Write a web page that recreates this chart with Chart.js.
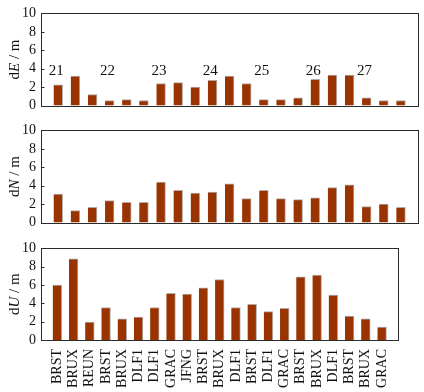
<!DOCTYPE html>
<html><head><meta charset="utf-8">
<script src="https://cdn.jsdelivr.net/npm/chart.js@4/dist/chart.umd.min.js"></script>
<style>
html,body{margin:0;padding:0;background:#fff;}
#wrap{position:relative;width:424px;height:392px;overflow:hidden;background:#fff;}
canvas{position:absolute;left:0;}
</style></head><body>
<div id="wrap">
<canvas id="c1" width="424" height="119" style="top:0px"></canvas>
<canvas id="c2" width="424" height="119" style="top:117px"></canvas>
<canvas id="c3" width="424" height="157" style="top:235px"></canvas>
</div>
<script>
const stations = ['BRST','BRUX','REUN','BRST','BRUX','DLF1','DLF1','GRAC','JFNG','BRST','BRUX','DLF1','BRST','DLF1','GRAC','BRST','BRUX','DLF1','BRST','BRUX','GRAC'];
const dE = [2.25,3.2,1.2,0.55,0.65,0.55,2.4,2.5,2.0,2.75,3.2,2.4,0.65,0.65,0.85,2.85,3.3,3.3,0.85,0.55,0.55];
const dN = [3.1,1.3,1.65,2.4,2.2,2.2,4.4,3.5,3.2,3.3,4.2,2.6,3.5,2.6,2.5,2.7,3.8,4.1,1.75,2.0,1.65];
const dU = [6.0,8.85,1.95,3.55,2.3,2.5,3.55,5.1,5.0,5.7,6.6,3.55,3.9,3.1,3.45,6.9,7.1,4.9,2.6,2.3,1.4];
const yTicks = [0,2,4,6,8,10];
const groupLabels = ['21','22','23','24','25','26','27'];
const groupStart = [0,3,6,9,12,15,18];
const groupLabelY = 3.8;
const yTitleE = ['d','E',' / m'];
const yTitleN = ['d','N',' / m'];
const yTitleU = ['d','U',' / m'];

const FONT = "'Liberation Serif','Times New Roman',serif";
const BAR = '#993300';
const padLabels = [''].concat(stations, ['']);
const pad = arr => [null].concat(arr, [null]);

const boxPlugin = {
  id: 'box',
  afterDraw(chart, args, opts) {
    const {ctx, chartArea: a, scales} = chart;
    ctx.save();
    ctx.strokeStyle = '#2a2a2a';
    ctx.lineWidth = 1;
    const L = Math.round(a.left) + 0.5, T = Math.round(a.top) + 0.5;
    const R = Math.round(a.right) + 0.5, B = Math.round(a.bottom) + 0.5;
    ctx.strokeRect(L, T, R - L, B - T);
    yTicks.forEach(v => {
      if (v === yTicks[0] || v === yTicks[yTicks.length - 1]) return;
      const y = Math.round(scales.y.getPixelForValue(v)) + 0.5;
      ctx.beginPath(); ctx.moveTo(L, y); ctx.lineTo(L + 3, y); ctx.stroke();
    });
    const parts = opts.title || [];
    const fonts = ['15px ' + FONT, 'italic 15px ' + FONT, '15px ' + FONT];
    let total = 0;
    const widths = parts.map((p, i) => { ctx.font = fonts[i]; const w = ctx.measureText(p).width; total += w; return w; });
    ctx.translate(15, (a.top + a.bottom) / 2);
    ctx.rotate(-Math.PI / 2);
    ctx.fillStyle = '#111';
    ctx.textBaseline = 'middle';
    ctx.textAlign = 'left';
    let x = -total / 2;
    parts.forEach((p, i) => { ctx.font = fonts[i]; ctx.fillText(p, x, 0); x += widths[i]; });
    ctx.restore();
    if (opts.groups) {
      ctx.save();
      ctx.font = '15px ' + FONT;
      ctx.fillStyle = '#111';
      ctx.textAlign = 'center';
      ctx.textBaseline = 'middle';
      const yy = scales.y.getPixelForValue(groupLabelY);
      groupLabels.forEach((g, i) => {
        const xx = scales.x.getPixelForValue(groupStart[i] + 1) - 2;
        ctx.fillText(g, xx, yy);
      });
      ctx.restore();
    }
  }
};

function makeChart(id, values, title, showX, groups) {
  return new Chart(document.getElementById(id), {
    type: 'bar',
    data: {
      labels: padLabels,
      datasets: [{
        data: pad(values),
        backgroundColor: BAR,
        borderColor: 'rgba(170,160,160,0.9)',
        borderWidth: {top: 1, right: 1, left: 0, bottom: 0},
        borderSkipped: false,
        barThickness: 9
      }]
    },
    options: {
      responsive: false,
      animation: false,
      devicePixelRatio: 1,
      layout: {padding: {top: 13, right: 6, bottom: 0, left: 0}},
      plugins: {legend: {display: false}, tooltip: {enabled: false}, box: {title: title, groups: groups}},
      scales: {
        x: {
          display: showX,
          offset: false,
          grid: {display: false, drawTicks: false},
          border: {display: false},
          ticks: {
            autoSkip: false,
            minRotation: 90,
            maxRotation: 90,
            padding: 9,
            color: '#111',
            font: {family: FONT, size: 14}
          },
          afterFit: s => { s.height = showX ? 52 : 0; }
        },
        y: {
          min: 0, max: 10,
          grid: {display: false, drawTicks: false},
          border: {display: false},
          afterBuildTicks: s => { s.ticks = yTicks.map(v => ({value: v})); },
          ticks: {autoSkip: false, padding: 5, color: '#111', font: {family: FONT, size: 14}},
          afterFit: s => { s.width = 41; }
        }
      }
    },
    plugins: [boxPlugin]
  });
}

makeChart('c1', dE, yTitleE, false, true);
makeChart('c2', dN, yTitleN, false, false);
makeChart('c3', dU, yTitleU, true, false);
</script>
</body></html>
